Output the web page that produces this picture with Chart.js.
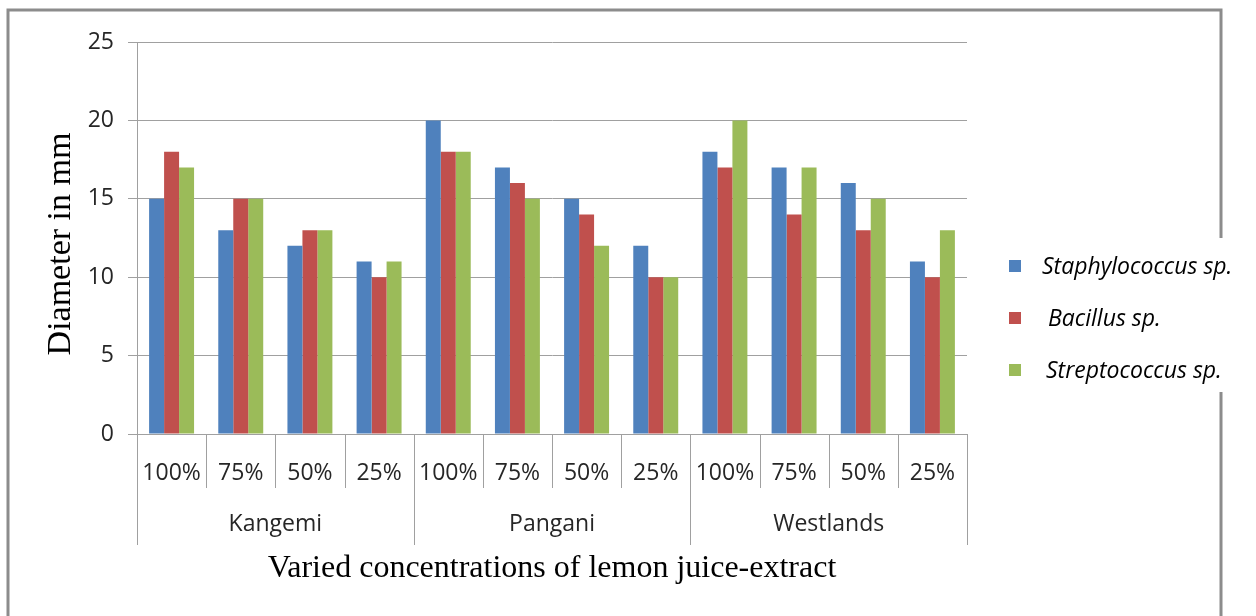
<!DOCTYPE html>
<html>
<head>
<meta charset="utf-8">
<script src="https://cdn.jsdelivr.net/npm/chart.js"></script>
<style>
  html, body { margin: 0; padding: 0; background: #fff; }
  #wrap { width: 1256px; height: 616px; }
</style>
</head>
<body>
<div id="wrap"><canvas id="myChart"></canvas></div>
<script>
const concentrations = ['100%', '75%', '50%', '25%'];
const sites = ['Kangemi', 'Pangani', 'Westlands'];
const staphylococcus = [15, 13, 12, 11, 20, 17, 15, 12, 18, 17, 16, 11];
const bacillus = [18, 15, 13, 10, 18, 16, 14, 10, 17, 14, 13, 10];
const streptococcus = [17, 15, 13, 11, 18, 15, 12, 10, 20, 17, 15, 13];
const yTicks = [0, 5, 10, 15, 20, 25];

const labels = [];
sites.forEach(() => concentrations.forEach(c => labels.push(c)));

const gridGray = '#a0a0a0';
const tickFont = { family: 'Open Sans', size: 23 };

// frame, group labels, separators, titles and legend
const extras = {
  id: 'extras',
  afterDraw(chart) {
    const { ctx, chartArea, scales: { x } } = chart;
    const n = chart.data.labels.length;
    const per = concentrations.length;
    const step = (x.right - x.left) / n;
    const bottom = chartArea.bottom;
    ctx.save();

    ctx.strokeStyle = gridGray;
    ctx.lineWidth = 1;
    for (let i = 0; i <= n; i++) {
      const px = Math.round(x.left + i * step) + 0.5;
      const end = i % per === 0 ? 545 : 488;
      ctx.beginPath();
      ctx.moveTo(px, bottom);
      ctx.lineTo(px, end);
      ctx.stroke();
    }

    ctx.fillStyle = '#262626';
    ctx.font = '23px "Open Sans"';
    ctx.textAlign = 'center';
    ctx.textBaseline = 'middle';
    sites.forEach((s, g) => {
      ctx.fillText(s, x.left + (g * per + per / 2) * step, 524);
    });

    ctx.fillStyle = '#000';
    ctx.font = '32px "Liberation Serif"';
    ctx.fillText('Varied concentrations of lemon juice-extract', 552, 569);

    ctx.save();
    ctx.translate(61, 244);
    ctx.rotate(-Math.PI / 2);
    ctx.font = '34px "Liberation Serif"';
    ctx.fillText('Diameter in mm', 0, 0);
    ctx.restore();

    // legend
    ctx.textAlign = 'left';
    ctx.font = 'italic 23px "Open Sans"';
    const textX = [1042, 1048, 1046];
    chart.data.datasets.forEach((d, i) => {
      const cy = 266 + i * 52;
      ctx.fillStyle = d.backgroundColor;
      ctx.fillRect(1009, cy - 6, 12, 12);
      ctx.fillStyle = '#000';
      ctx.fillText(d.label, textX[i], cy + 1);
    });

    // outer frame
    ctx.strokeStyle = '#8c8c8c';
    ctx.lineWidth = 3;
    ctx.beginPath();
    ctx.moveTo(1221, 238);
    ctx.lineTo(1221, 10);
    ctx.lineTo(8, 10);
    ctx.lineTo(8, 616);
    ctx.moveTo(1221, 392);
    ctx.lineTo(1221, 616);
    ctx.stroke();
    ctx.restore();
  }
};

const ctx = document.getElementById('myChart');

new Chart(ctx, {
  type: 'bar',
  data: {
    labels: labels,
    datasets: [
      { label: 'Staphylococcus sp.', data: staphylococcus, backgroundColor: '#4F81BD' },
      { label: 'Bacillus sp.', data: bacillus, backgroundColor: '#C0504D' },
      { label: 'Streptococcus sp.', data: streptococcus, backgroundColor: '#9BBB59' }
    ]
  },
  options: {
    responsive: true,
    maintainAspectRatio: false,
    animation: false,
    datasets: { bar: { categoryPercentage: 0.65, barPercentage: 1.0 } },
    layout: { padding: { top: 42, right: 289, bottom: 0, left: 0 } },
    plugins: {
      legend: { display: false },
      tooltip: { enabled: false }
    },
    scales: {
      x: {
        afterFit: s => { s.height = 182; },
        grid: { display: false },
        border: { display: true, color: gridGray },
        ticks: { font: tickFont, color: '#262626', padding: 18, maxRotation: 0, autoSkip: false }
      },
      y: {
        min: 0,
        max: 25,
        afterFit: s => { s.width = 137; },
        afterBuildTicks: s => { s.ticks = yTicks.map(v => ({ value: v })); },
        grid: { color: gridGray, tickLength: 9 },
        border: { color: gridGray },
        ticks: { font: tickFont, color: '#262626', padding: 14 }
      }
    }
  },
  plugins: [extras]
});
</script>
</body>
</html>
